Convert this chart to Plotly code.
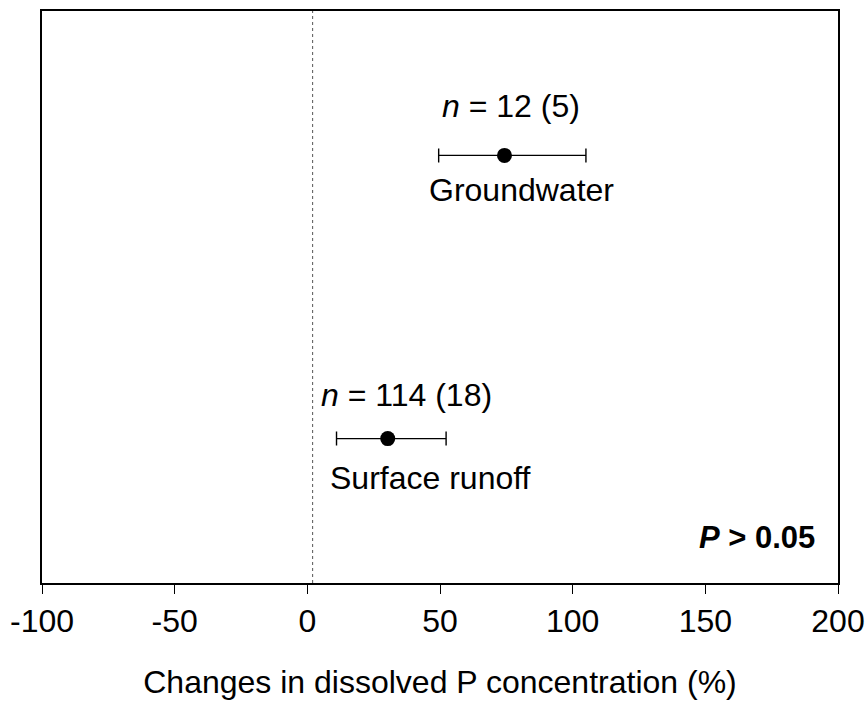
import plotly.graph_objects as go

categories = ["Surface runoff", "Groundwater"]
n_labels = ["<i>n</i> = 114 (18)", "<i>n</i> = 12 (5)"]
y_pos = [1, 2]
means = [30.3, 74.3]
lower = [11.0, 49.5]
upper = [52.3, 105.0]
x_ticks = [-100, -50, 0, 50, 100, 150, 200]
x_tick_text = ["-100", "-50", "0", "50", "100", "150", "200"]
ref_line = 2

err_plus = [u - m for u, m in zip(upper, means)]
err_minus = [m - l for m, l in zip(means, lower)]

FONT = "Liberation Sans, Arial, sans-serif"

fig = go.Figure()
fig.add_trace(go.Scatter(
    x=means, y=y_pos, mode="markers",
    marker=dict(color="black", size=15),
    error_x=dict(type="data", symmetric=False, array=err_plus, arrayminus=err_minus,
                 color="black", thickness=1.4, width=7),
    showlegend=False, hoverinfo="skip"))

fig.add_shape(type="line", x0=ref_line, x1=ref_line, y0=0, y1=1, yref="paper",
              line=dict(color="#555555", width=1, dash="dot"))

n_shift = [19, 7]
name_shift = [43, 17]
n_yshift = [44, 49]
name_yshift = [-39, -35]
for i in range(2):
    fig.add_annotation(x=means[i], y=y_pos[i], text=n_labels[i], showarrow=False,
                       xshift=n_shift[i], yshift=n_yshift[i],
                       font=dict(family=FONT, size=32, color="black"))
    fig.add_annotation(x=means[i], y=y_pos[i], text=categories[i], showarrow=False,
                       xshift=name_shift[i], yshift=name_yshift[i],
                       font=dict(family=FONT, size=32, color="black"))

fig.add_annotation(x=1, y=0, xref="paper", yref="paper", xanchor="right", yanchor="middle",
                   xshift=-21, yshift=46, text="<b><i>P</i> &gt; 0.05</b>", showarrow=False,
                   font=dict(family=FONT, size=31, color="black"))

fig.update_layout(
    width=867, height=711, autosize=False,
    margin=dict(l=42, r=29, t=11, b=128, autoexpand=False),
    plot_bgcolor="white", paper_bgcolor="white",
    xaxis=dict(range=[-100, 200], tickvals=x_ticks, ticktext=x_tick_text, automargin=False,
               ticklabeloverflow="allow",
               ticks="outside", ticklen=9, tickwidth=1.4,
               tickcolor="black", showline=True, linecolor="black", linewidth=1.6, mirror=True,
               showgrid=False, zeroline=False,
               tickfont=dict(family=FONT, size=32, color="black"),
               title=dict(text="Changes in dissolved P concentration (%)", standoff=32,
                          font=dict(family=FONT, size=32, color="black"))),
    yaxis=dict(range=[0.49, 2.51], showticklabels=False, ticks="", showgrid=False, zeroline=False,
               automargin=False,
               showline=True, linecolor="black", linewidth=1.6, mirror=True),
)

fig.write_html("out.html",
               config={"displayModeBar": False, "responsive": False},
               post_script="document.body.style.margin='0';document.body.style.overflow='hidden';")
